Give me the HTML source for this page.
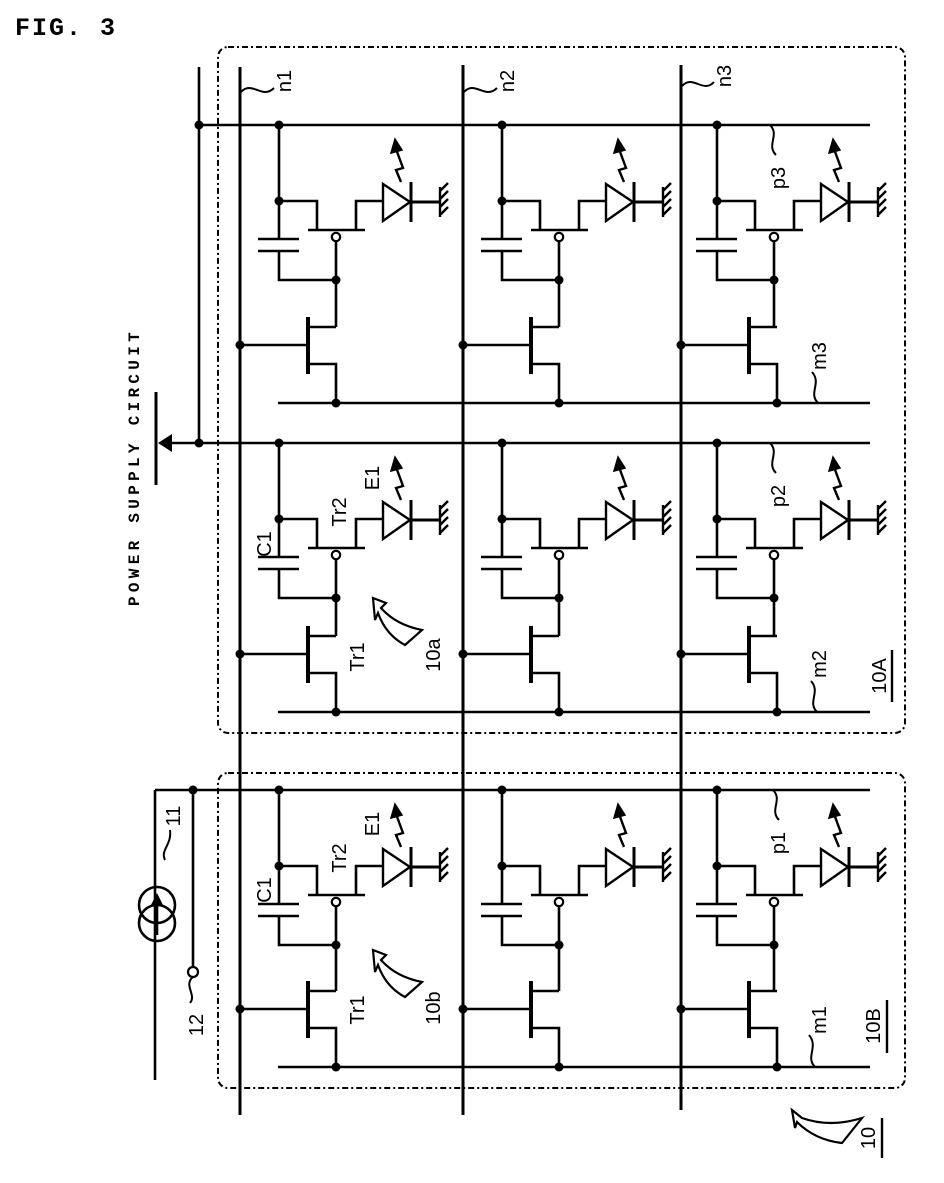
<!DOCTYPE html>
<html><head><meta charset="utf-8"><style>
html,body{margin:0;padding:0;background:#fff;}
svg{display:block;}
text{font-family:"Liberation Sans",sans-serif;fill:#000;}
</style></head><body>
<svg width="944" height="1183" viewBox="0 0 944 1183" xmlns="http://www.w3.org/2000/svg">
<defs>
<g id="cellTop" stroke="#000" stroke-width="2.6" fill="none">
  <path d="M39,0 V114 M39,76 H77 V105 M68,105 H125 M116,105 V76 H143"/>
  <path d="M143,59 L143,96 L170,77 Z" stroke-width="2.4"/>
  <path d="M171,57 V97 M171,77 H200" stroke-width="3"/>
  <path d="M200,62 V92 M200,66 L208,58 M200,74 L208,66 M200,82 L208,74 M200,90 L208,82" stroke-width="2.4"/>
  <path d="M161,57 L156,45 L163,43 L156,24" stroke-width="2.4"/>
  <path d="M151,28 L155,14 L162,25 Z" fill="#000" stroke-width="1.5"/>
  <circle cx="96" cy="112" r="4.2" stroke-width="2.2" fill="#fff"/>
  <path d="M96,116 V155 M18,114 H59 M18,126 H59 M39,126 V155 H96" />
  <circle cx="39" cy="0" r="4.5" fill="#000" stroke="none"/>
  <circle cx="39" cy="76" r="4.5" fill="#000" stroke="none"/>
  <circle cx="96" cy="155" r="4.5" fill="#000" stroke="none"/>
</g>
<g id="cellBot" stroke="#000" stroke-width="2.6" fill="none">
  <path d="M96,-76 H70 M68,-86 V-29 M0,-58 H66 M70,-39 H96 V0" />
  <path d="M68,-86 V-29" stroke-width="4"/>
  <circle cx="0" cy="-58" r="4.5" fill="#000" stroke="none"/>
  <circle cx="96" cy="0" r="4.5" fill="#000" stroke="none"/>
</g>
</defs>

<text x="15" y="35" style="font-family:'Liberation Mono',monospace;font-weight:bold;font-size:25px;letter-spacing:2px">FIG. 3</text>

<!-- dashed boxes -->
<rect x="218" y="47" width="687" height="686" rx="10" fill="none" stroke="#000" stroke-width="2" stroke-dasharray="6,3,2,3"/>
<rect x="218" y="773" width="687" height="315" rx="10" fill="none" stroke="#000" stroke-width="2" stroke-dasharray="6,3,2,3"/>

<g stroke="#000" stroke-width="2.6" fill="none">
  <path d="M240,67 V1115 M463,65 V1115 M681,65 V1110" stroke-width="3"/>
  <path d="M199,125 H870 M160,443 H870 M155,790 H870"/>
  <path d="M199,67 V443"/>
  <path d="M278,403 H870 M278,712 H870 M278,1067 H870"/>
  <path d="M155,790 V1080 M193,790 V967"/>
  <circle cx="157" cy="905" r="18"/>
  <circle cx="157" cy="923" r="18"/>
  <path d="M157,903 V935"/>
  <circle cx="193" cy="972" r="5" stroke-width="2.2" fill="#fff"/>
  <path d="M156,392 V485" stroke-width="3"/>
</g>
<path d="M158,443 L172,434 L172,452 Z" fill="#000"/>
<path d="M157,893 L151,905 L163,905 Z" fill="#000"/>
<circle cx="199" cy="125" r="4.5"/><circle cx="199" cy="443" r="4.5"/><circle cx="193" cy="790" r="4.5"/>

<use href="#cellTop" x="240" y="125"/><use href="#cellTop" x="463" y="125"/><use href="#cellTop" x="678" y="125"/>
<use href="#cellTop" x="240" y="443"/><use href="#cellTop" x="463" y="443"/><use href="#cellTop" x="678" y="443"/>
<use href="#cellTop" x="240" y="790"/><use href="#cellTop" x="463" y="790"/><use href="#cellTop" x="678" y="790"/>
<g stroke="#000" stroke-width="2.6" fill="none">
  <path d="M336,280 V327 M559,280 V327 M774,280 V327"/>
  <path d="M336,598 V636 M559,598 V636 M774,598 V636"/>
  <path d="M336,945 V991 M559,945 V991 M774,945 V991"/>
</g>
<use href="#cellBot" x="240" y="403"/><use href="#cellBot" x="463" y="403"/><use href="#cellBot" x="681" y="403"/>
<use href="#cellBot" x="240" y="712"/><use href="#cellBot" x="463" y="712"/><use href="#cellBot" x="681" y="712"/>
<use href="#cellBot" x="240" y="1067"/><use href="#cellBot" x="463" y="1067"/><use href="#cellBot" x="681" y="1067"/>

<g fill="#fff" stroke="#000" stroke-width="2.2">
  <path d="M373,598 L386,603 L381,608 Q396,625 422,630 L405,645 Q386,635 378,613 L375,620 Z"/>
  <path d="M373,950 L386,955 L381,960 Q396,977 422,982 L405,997 Q386,987 378,965 L375,972 Z"/>
  <path d="M792,1110 L802,1118 Q830,1128 862,1118 L842,1143 Q815,1140 797,1122 L795,1128 Z"/>
</g>

<g stroke="#000" stroke-width="2" fill="none">
  <path d="M241,92 C252,80 262,100 274,88"/>
  <path d="M464,92 C475,80 485,100 497,88"/>
  <path d="M682,86 C693,74 703,94 714,82"/>
  <path d="M770,125 C780,135 766,145 776,155"/>
  <path d="M770,443 C780,453 766,463 776,473"/>
  <path d="M773,790 C783,800 769,810 779,820"/>
  <path d="M818,403 C808,393 822,383 812,372"/>
  <path d="M817,712 C807,702 821,692 811,681"/>
  <path d="M815,1067 C805,1057 819,1047 809,1035"/>
  <path d="M165,860 C160,850 172,845 170,830"/>
  <path d="M193,977 C183,985 197,995 190,1003"/>
  <path d="M892,650 V702 M887,1000 V1053 M882,1118 V1158" stroke-width="2.4"/>
</g>

<g font-size="20">
  <text transform="translate(291,81) rotate(-90)" text-anchor="middle">n1</text>
  <text transform="translate(514,81) rotate(-90)" text-anchor="middle">n2</text>
  <text transform="translate(731,76) rotate(-90)" text-anchor="middle">n3</text>
  <text transform="translate(785,178) rotate(-90)" text-anchor="middle">p3</text>
  <text transform="translate(785,496) rotate(-90)" text-anchor="middle">p2</text>
  <text transform="translate(785,843) rotate(-90)" text-anchor="middle">p1</text>
  <text transform="translate(826,356) rotate(-90)" text-anchor="middle">m3</text>
  <text transform="translate(826,664) rotate(-90)" text-anchor="middle">m2</text>
  <text transform="translate(826,1020) rotate(-90)" text-anchor="middle">m1</text>
  <text transform="translate(886,676) rotate(-90)" text-anchor="middle">10A</text>
  <text transform="translate(880,1026) rotate(-90)" text-anchor="middle">10B</text>
  <text transform="translate(875,1138) rotate(-90)" text-anchor="middle">10</text>
  <text transform="translate(180,816) rotate(-90)" text-anchor="middle">11</text>
  <text transform="translate(203,1025) rotate(-90)" text-anchor="middle">12</text>
  <text transform="translate(271,544) rotate(-90)" text-anchor="middle">C1</text>
  <text transform="translate(346,512) rotate(-90)" text-anchor="middle">Tr2</text>
  <text transform="translate(379,478) rotate(-90)" text-anchor="middle">E1</text>
  <text transform="translate(364,657) rotate(-90)" text-anchor="middle">Tr1</text>
  <text transform="translate(440,655) rotate(-90)" text-anchor="middle">10a</text>
  <text transform="translate(271,890) rotate(-90)" text-anchor="middle">C1</text>
  <text transform="translate(346,858) rotate(-90)" text-anchor="middle">Tr2</text>
  <text transform="translate(379,824) rotate(-90)" text-anchor="middle">E1</text>
  <text transform="translate(364,1010) rotate(-90)" text-anchor="middle">Tr1</text>
  <text transform="translate(440,1008) rotate(-90)" text-anchor="middle">10b</text>
</g>
<text transform="translate(139,467) rotate(-90)" text-anchor="middle" style="font-family:'Liberation Mono',monospace;font-weight:bold;font-size:16px;letter-spacing:4.3px">POWER SUPPLY CIRCUIT</text>
</svg>
</body></html>
